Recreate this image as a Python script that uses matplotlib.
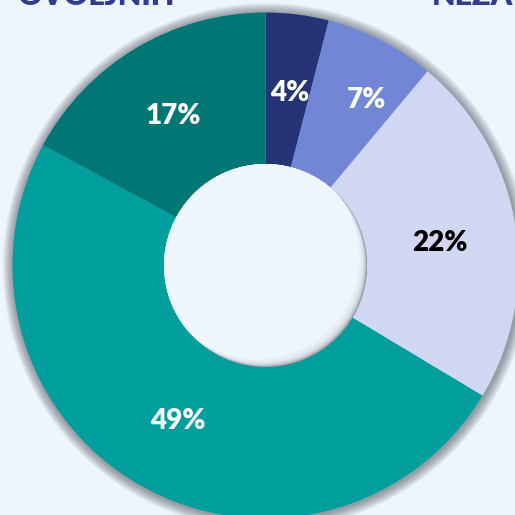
import matplotlib
matplotlib.use("Agg")
import matplotlib.pyplot as plt
from matplotlib.patches import Circle

labels = ["4%", "7%", "22%", "49%", "17%"]
values = [4, 7, 22.4, 49, 17]
colors = ["#253476", "#7187D6", "#D0D7F2", "#009E9C", "#007774"]
label_colors = ["white", "white", "black", "white", "white"]
title_left = "OVOLJNIH"
title_right = "NEZA"

bg = "#EEF5FD"
W = 515
cx, cy = 265.5, 265.5   # centre in pixels (from top-left)
R = 253.0               # outer radius in pixels
r_in = 101.5 / R        # hole radius in data units

fig = plt.figure(figsize=(W / 100, W / 100), dpi=100, facecolor=bg)
ax = fig.add_axes([0, 0, 1, 1])
ax.set_facecolor(bg)

# soft shadow around the ring
n = 16
for i in range(n):
    ax.add_patch(Circle((0.003, -0.004), 1 + 0.0026 * (n - i), color="#4a4e58",
                        alpha=0.045, lw=0, zorder=1))

wedges, _ = ax.pie(values, colors=colors, startangle=90, counterclock=False,
                   radius=1, wedgeprops=dict(width=1 - r_in, lw=0),
                   normalize=True)
for w in wedges:
    w.set_zorder(2)

# hole with inner shading at lower right
hole = Circle((0, 0), r_in, color="#80858e", lw=0, zorder=3)
ax.add_patch(hole)
base = Circle((-0.03, 0.03), r_in, color=bg, lw=0, zorder=4)
ax.add_patch(base)
base.set_clip_path(hole)
for k in range(14):
    d = 0.03 * (1 - (k + 1) / 14)
    c = Circle((-d, d), r_in, color=bg, lw=0, alpha=0.22, zorder=5)
    ax.add_patch(c)
    c.set_clip_path(hole)

# percentage labels
label_px = [(290, 93), (367, 100), (440, 243), (178, 421), (173, 116)]
for (px, py), t, tc in zip(label_px, labels, label_colors):
    ax.text((px - cx) / R, (cy - py) / R, t, color=tc, fontsize=20,
            fontweight="heavy", family="Lato", ha="center", va="center",
            zorder=6)

# header text, mostly cut off by the top edge
ax.text((175 - cx) / R, (cy - 5) / R, title_left, color="#2E3D91", fontsize=22,
        fontweight="heavy", family="Lato", ha="right", va="baseline", zorder=6)
ax.text((432 - cx) / R, (cy - 5) / R, title_right, color="#2E3D91", fontsize=22,
        fontweight="heavy", family="Lato", ha="left", va="baseline", zorder=6)

ax.set_xlim(-cx / R, (W - cx) / R)
ax.set_ylim(-(W - cy) / R, cy / R)
ax.set_aspect("equal")
ax.axis("off")

fig.savefig("out.png", dpi=100, facecolor=bg)
